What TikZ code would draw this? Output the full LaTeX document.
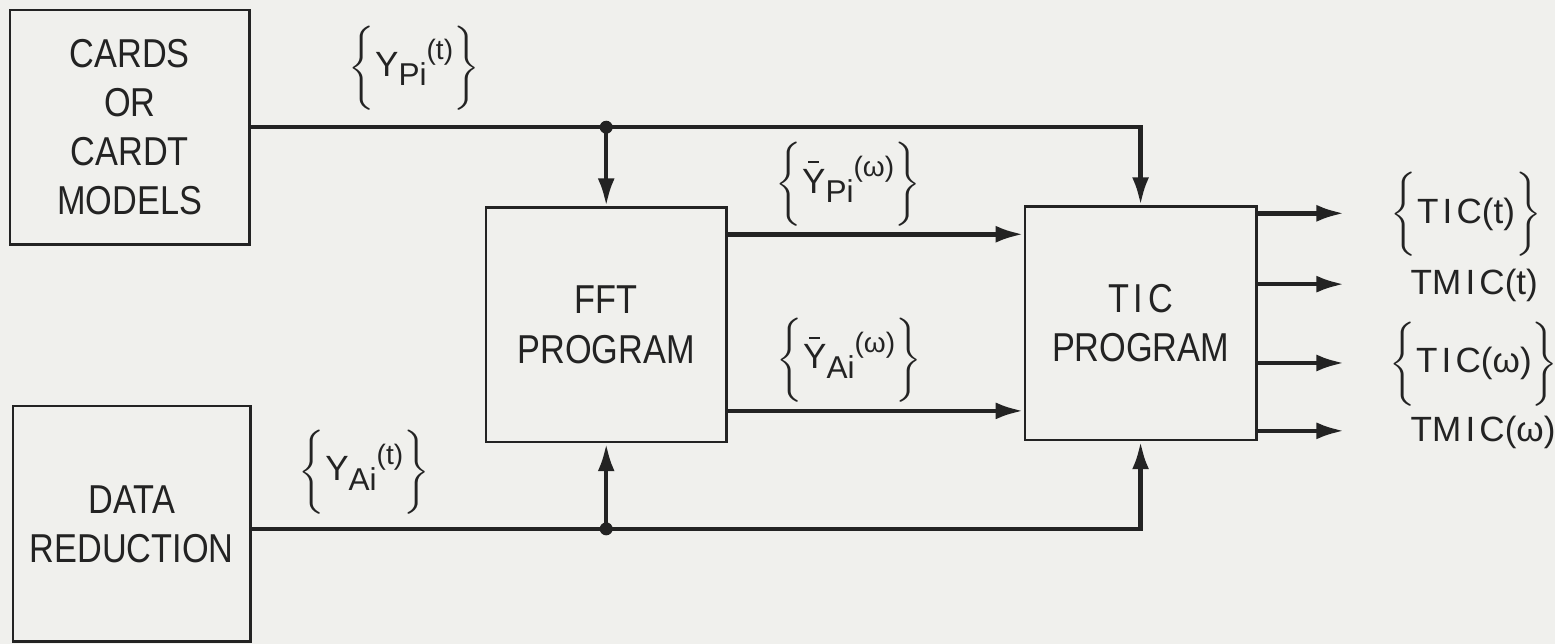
\documentclass[tikz,border=0pt]{standalone}
\usepackage{fontspec}
\setmainfont{Liberation Sans}[FakeStretch=0.85]
\newfontfamily\lblfont{Liberation Sans}
\usetikzlibrary{arrows.meta}
\definecolor{bgcol}{RGB}{240,240,237}
\definecolor{inkcol}{RGB}{35,35,35}
% signal label {Y_sub^(arg)}
\newcommand{\sigl}[3]{$\bigg\{$#1\raisebox{-0.5ex}{\small #2}\raisebox{0.9ex}{\footnotesize(#3)}$\bigg\}$}
\newcommand{\outl}[1]{$\bigg\{$#1$\bigg\}$}
\newcommand{\barY}{\makebox[0pt][l]{\hspace{0.17em}\rule[0.86em]{0.3em}{0.06em}}Y}
\newcommand{\tic}{T\kern.12em I\kern.12em C}

\begin{document}
\begin{tikzpicture}[>={Latex[length=2.8mm,width=1.7mm]},
    blk/.style={draw=inkcol,line width=0.7pt,align=center,inner sep=0pt,text=inkcol,
                font=\fontsize{11.5}{14}\selectfont},
    sig/.style={line width=1.3pt,draw=inkcol},
    lbl/.style={inner sep=0pt,text=inkcol,font=\lblfont\fontsize{10}{12}\selectfont}]
\fill[bgcol] (0,0) rectangle (15.58,-6.45);

\node[blk,minimum width=2.40cm,minimum height=2.35cm] (cards) at (1.30,-1.275) {CARDS\\OR\\CARDT\\MODELS};
\node[blk,minimum width=2.38cm,minimum height=2.36cm] (data) at (1.32,-5.25) {DATA\\REDUCTION};
\node[blk,minimum width=2.41cm,minimum height=2.35cm] (fft) at (6.075,-3.255) {FFT\\PROGRAM};
\node[blk,minimum width=2.32cm,minimum height=2.34cm] (tic) at (11.43,-3.24) {\tic\\PROGRAM};

% junctions
\coordinate (jP) at (fft.north |- cards.east);
\coordinate (jA) at (6.075,-5.30);

\draw[sig,->] (cards.east) -- (jP) -| (tic.north);
\draw[sig,->] (jP) -- (fft.north);
\draw[sig,->] (data.east |- jA) -- (jA) -| (tic.south);
\draw[sig,->] (jA) -- (fft.south);
\fill[inkcol] (jP) circle(0.065);
\fill[inkcol] (jA) circle(0.065);

\foreach \y in {0.28,2.05}
{
    \draw[sig,->] ([yshift=-\y cm]fft.north east) -- ([yshift=-\y cm]fft.north east -| tic.west);
}
\foreach \y/\n in {0.08/1,0.79/2,1.58/3,2.26/4}
{
    \draw[sig,->] ([yshift=-\y cm]tic.north east) -- ++(0.87,0) coordinate (o\n);
}

\node[lbl] (yp) at (4.15,-0.68) {\sigl{Y}{Pi}{t}};
\node[lbl] (ya) at (3.65,-4.73) {\sigl{Y}{Ai}{t}};
\node[lbl] (ypw) at (8.50,-1.85) {\sigl{\barY}{Pi}{ω}};
\node[lbl] (yaw) at (8.51,-3.61) {\sigl{\barY}{Ai}{ω}};

\node[lbl,anchor=west] (ticT) at (13.93,-2.15) {\outl{\tic(t)}};
\node[lbl,anchor=west] (tmicT) at (14.13,-2.86) {TM\kern.12em I\kern.12em C(t)};
\node[lbl,anchor=west] (ticW) at (13.92,-3.65) {\outl{\tic(ω)}};
\node[lbl,anchor=west] (tmicW) at (14.13,-4.33) {TM\kern.12em I\kern.12em C(ω)};

\end{tikzpicture}
\end{document}
